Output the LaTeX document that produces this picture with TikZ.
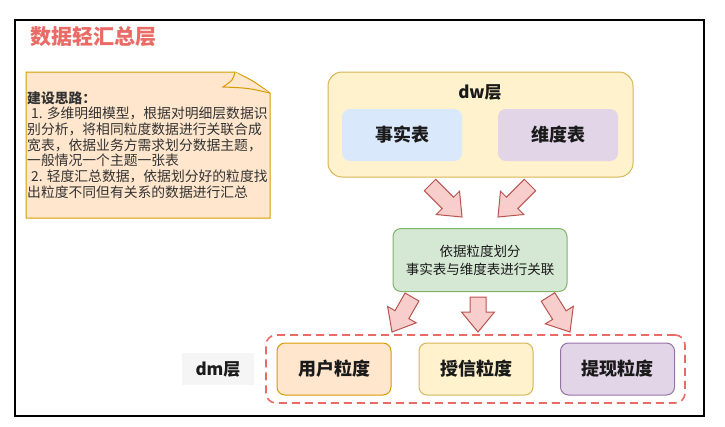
\documentclass[tikz,border=0pt]{standalone}
\usepackage{fontspec}
\setmainfont{Noto Sans CJK SC}
\usetikzlibrary{calc,positioning}
\definecolor{titleRed}{HTML}{EA6B66}
\definecolor{noteFill}{HTML}{FFE6CC}
\definecolor{noteLine}{HTML}{D79B00}
\definecolor{noteText}{HTML}{333333}
\definecolor{yellowFill}{HTML}{FFF2CC}
\definecolor{yellowLine}{HTML}{D6B656}
\definecolor{blueFill}{HTML}{DAE8FC}
\definecolor{purpleFill}{HTML}{E1D5E7}
\definecolor{purpleLine}{HTML}{9673A6}
\definecolor{greenFill}{HTML}{D5E8D4}
\definecolor{greenLine}{HTML}{82B366}
\definecolor{arrowFill}{HTML}{F8CECC}
\definecolor{arrowLine}{HTML}{B85450}
\definecolor{labelGray}{HTML}{F5F5F5}
\definecolor{inkDark}{HTML}{1A1A1A}
\tikzset{
  table box/.style={rounded corners=8pt,minimum width=120pt,minimum height=52pt,inner sep=0pt,font=\fontsize{18}{20}\selectfont\bfseries,text=inkDark},
  grain box/.style={table box,draw,line width=1pt,minimum width=114pt},
  layer label/.style={inner sep=0pt,font=\fontsize{17}{20}\selectfont\bfseries,text=inkDark},
  flex arrow/.style={fill=arrowFill,draw=arrowLine,line width=1pt,line join=miter}
}
% block arrow between two named coordinates
\newcommand{\flexarrow}[2]{%
  \coordinate (fa-h) at ($(#2)!20pt!(#1)$);
  \filldraw[flex arrow] ($(#1)!8pt!90:(#2)$) -- ($(fa-h)!8pt!90:(#2)$) -- ($(fa-h)!16.5pt!90:(#2)$)
    -- (#2) -- ($(fa-h)!16.5pt!-90:(#2)$) -- ($(fa-h)!8pt!-90:(#2)$) -- ($(#1)!8pt!-90:(#2)$) -- cycle;
}
\begin{document}
\begin{tikzpicture}[x=1pt,y=-1pt]
  \useasboundingbox (0,0) rectangle (725,426);
  \draw[line width=1.2pt] (15,20) rectangle (704,416);
  \node[anchor=west,inner sep=0pt,text=titleRed,font=\fontsize{21}{24}\selectfont\bfseries] (title) at (30,37) {数据轻汇总层};
  % note
  \filldraw[fill=noteFill,draw=noteLine,line width=1pt] (26,72) -- (235,72) .. controls (252,80) .. (270,93) -- (270,218) -- (26,218) -- cycle;
  \filldraw[fill=noteFill,draw=noteLine,line width=1pt] (235,72) .. controls (233,80) .. (223,87) .. controls (248,88) .. (270,93);
  \node[anchor=north west,inner sep=0pt,align=left,text=noteText,font=\fontsize{13.8}{15.7}\selectfont] (idea) at (27,91)
    {\textbf{建设思路：}\\
     \hspace{4pt}1. 多维明细模型，根据对明细层数据识\\
     别分析，将相同粒度数据进行关联合成\\
     宽表，依据业务方需求划分数据主题，\\
     一般情况一个主题一张表\\
     \hspace{4pt}2. 轻度汇总数据，依据划分好的粒度找\\
     出粒度不同但有关系的数据进行汇总};
  % dw layer
  \node[draw=yellowLine,fill=yellowFill,rounded corners=14pt,line width=1pt,minimum width=305pt,minimum height=105pt] (dw) at (480.5,124.5) {};
  \node[layer label] (dwlabel) at (480,92) {dw层};
  \node[table box,fill=blueFill] (fact) at (402,135) {事实表};
  \node[table box,fill=purpleFill] (dim) at (558,135) {维度表};
  % join
  \node[draw=greenLine,fill=greenFill,rounded corners=8pt,line width=1pt,minimum width=174pt,minimum height=63pt,align=center,text=inkDark,font=\fontsize{13.5}{18}\selectfont] (link) at (480,260)
    {依据粒度划分\\事实表与维度表进行关联};
  % dm layer
  \node[draw=titleRed,dash pattern=on 8pt off 5pt,line width=1.6pt,rounded corners=10pt,minimum width=419pt,minimum height=68pt] (dm) at (475.5,369) {};
  \node[layer label,fill=labelGray,minimum width=72pt,minimum height=32pt] (dmlabel) at (218,369) {dm层};
  \node[grain box,draw=noteLine,fill=noteFill] (user) at (334,369) {用户粒度};
  \node[grain box,draw=yellowLine,fill=yellowFill] (credit) at (476,369) {授信粒度};
  \node[grain box,draw=purpleLine,fill=purpleFill] (cash) at (617.5,369) {提现粒度};
  % arrows
  \coordinate (f1) at (430,185); \coordinate (t1) at (462,217);
  \coordinate (f2) at (530,185); \coordinate (t2) at (498,217);
  \coordinate (f3) at (412,297); \coordinate (t3) at (392,332);
  \coordinate (f4) at (478,297); \coordinate (t4) at (478,332);
  \coordinate (f5) at (548,297); \coordinate (t5) at (570,332);
  \flexarrow{f1}{t1}
  \flexarrow{f2}{t2}
  \flexarrow{f3}{t3}
  \flexarrow{f4}{t4}
  \flexarrow{f5}{t5}
\end{tikzpicture}
\end{document}
